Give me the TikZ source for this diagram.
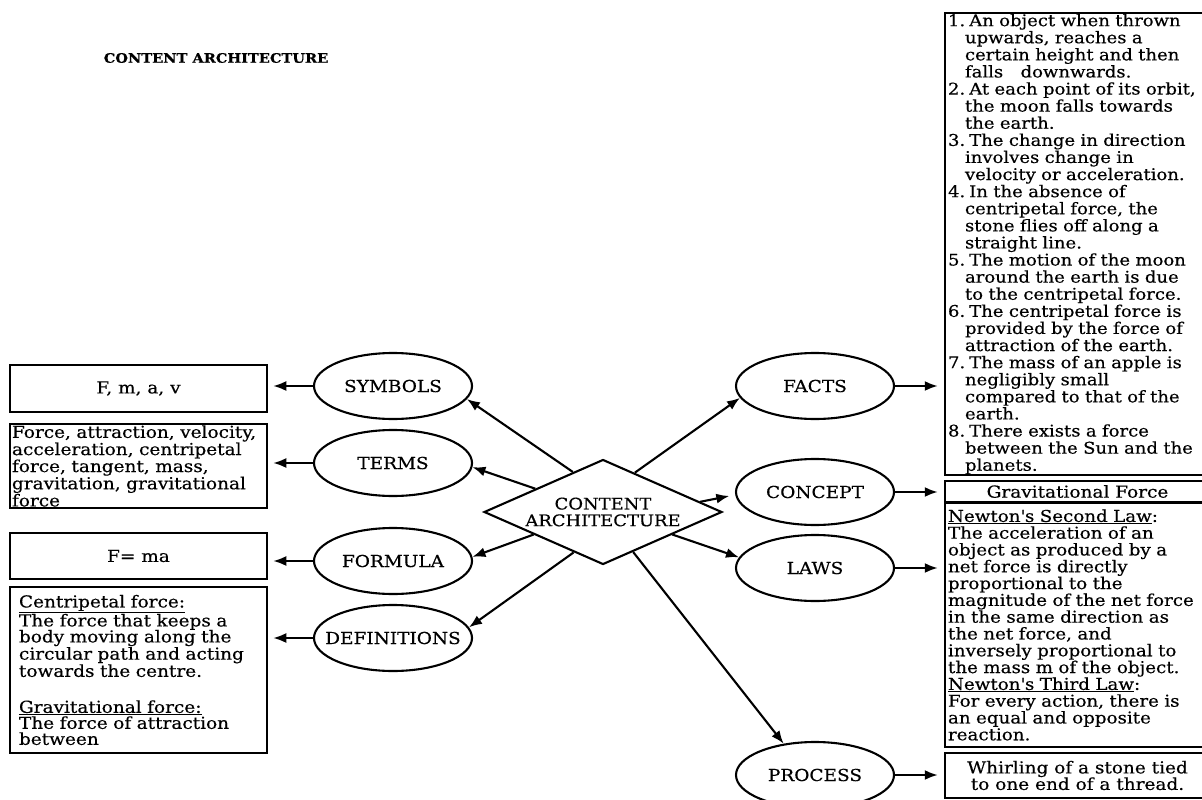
\documentclass[tikz,border=0pt]{standalone}
\usepackage{fontspec}
\setmainfont{DejaVu Serif}[FakeStretch=1.12,FakeBold=0.4]
\usetikzlibrary{shapes.geometric,arrows.meta}
\newcommand\hind{\hspace*{17pt}}
\newcommand\nmb[1]{#1.\hspace{4pt}}
\begin{document}
\begin{tikzpicture}[x=1pt,y=-1pt,
  box/.style={draw, line width=2.5pt, rectangle, inner sep=0pt, font=\fontsize{16.5}{16.5}\selectfont},
  oval/.style={draw, ellipse, line width=2.1pt, minimum width=158pt, minimum height=66pt, inner sep=0pt, font=\fontsize{16.5}{16}\selectfont},
  arr/.style={line width=2.1pt, -{Latex[length=13pt,width=10pt]}},
  gap/.style={shorten >=5pt}]
\clip (0,0) rectangle (1202,800);
\fill[white] (0,0) rectangle (1202,800);

% title
\node[font=\fontsize{13}{13}\selectfont\bfseries] (title) at (216,58) {CONTENT ARCHITECTURE};

% centre diamond
\node[draw, diamond, line width=2.1pt, aspect=2.27, minimum width=238pt, minimum height=105pt, inner sep=0pt, align=center, font=\fontsize{16}{16.7}\selectfont] (dia) at (603,512) {CONTENT\\ARCHITECTURE};

% ellipses
\node[oval] (sym) at (393,386) {\makebox[0pt]{SYMBOLS}};
\node[oval] (terms) at (393,463) {\makebox[0pt]{TERMS}};
\node[oval] (form) at (393,561) {\makebox[0pt]{FORMULA}};
\node[oval] (defs) at (393,638) {\makebox[0pt]{DEFINITIONS}};
\node[oval] (facts) at (815,386) {\makebox[0pt]{FACTS}};
\node[oval] (concept) at (815,492) {\makebox[0pt]{CONCEPT}};
\node[oval] (laws) at (815,568) {\makebox[0pt]{LAWS}};
\node[oval] (process) at (815,775) {\makebox[0pt]{PROCESS}};

% left boxes
\node[box, minimum width=257pt, minimum height=47pt] (b1) at (138.5,388.5) {F, m, a, v};
\node[box, minimum width=257pt, minimum height=84pt, text width=253pt, inner xsep=2pt, align=left, font=\fontsize{16.5}{15.8}\selectfont] (b2) at (138.5,466)
 {Force, attraction, velocity,\\acceleration, centripetal\\force, tangent, mass,\\gravitation, gravitational\\force};
\node[box, minimum width=257pt, minimum height=46pt] (b3) at (138.5,556) {F= ma};
\node[box, minimum width=257pt, minimum height=166pt, text width=239pt, inner xsep=9pt, align=left, font=\fontsize{16.5}{16}\selectfont] (b4) at (138.5,670)
 {\underline{Centripetal force:}\\The force that keeps a\\body moving along the\\circular path and acting\\towards the centre.\\[20pt]\underline{Gravitational force:}\\The force of attraction\\between};

% right boxes
\node[box, minimum width=300pt, minimum height=462pt, text width=294pt, inner xsep=3pt, align=left, font=\fontsize{16.1}{17.1}\selectfont] (fbox) at (1095,244)
 {\nmb{1}An object when thrown\\\hind upwards, reaches a\\\hind certain height and then\\\hind falls\hspace{12pt} downwards.\\
  \nmb{2}At each point of its orbit,\\\hind the moon falls towards\\\hind the earth.\\
  \nmb{3}The change in direction\\\hind involves change in\\\hind velocity or acceleration.\\
  \nmb{4}In the absence of\\\hind centripetal force, the\\\hind stone flies off along a\\\hind straight line.\\
  \nmb{5}The motion of the moon\\\hind around the earth is due\\\hind to the centripetal force.\\
  \nmb{6}The centripetal force is\\\hind provided by the force of\\\hind attraction of the earth.\\
  \nmb{7}The mass of an apple is\\\hind negligibly small\\\hind compared to that of the\\\hind earth.\\
  \nmb{8}There exists a force\\\hind between the Sun and the\\\hind planets.};
\node[box, minimum width=265pt, minimum height=21pt] (gbox) at (1077.5,491.5) {Gravitational Force};
\node[box, minimum width=300pt, minimum height=244pt, text width=294pt, inner xsep=3pt, align=left, font=\fontsize{16.3}{16.8}\selectfont] (lbox) at (1095,625)
 {\underline{Newton\textquotesingle s Second Law}:\\The acceleration of an\\object as produced by a\\net force is directly\\proportional to the\\magnitude of the net force\\in the same direction as\\the net force, and\\inversely proportional to\\the mass m of the object.\\\underline{Newton\textquotesingle s Third Law}:\\For every action, there is\\an equal and opposite\\reaction.};
\node[box, minimum width=265pt, minimum height=45pt, align=center, font=\fontsize{16.5}{16.5}\selectfont] (pbox) at (1077.5,775.5) {Whirling of a stone tied\\to one end of a thread.};

% ellipse -> box arrows
\draw[arr, gap] (sym.west) -- (sym.west -| b1.east);
\draw[arr, gap] (terms.west) -- (terms.west -| b2.east);
\draw[arr, gap] (form.west) -- (form.west -| b3.east);
\draw[arr, gap] (defs.west) -- (defs.west -| b4.east);
\draw[arr, shorten >=6pt] (facts.east) -- (facts.east -| fbox.west);
\draw[arr, shorten >=6pt] (concept.east) -- (concept.east -| gbox.west);
\draw[arr, shorten >=6pt] (laws.east) -- (laws.east -| lbox.west);
\draw[arr, shorten >=6pt] (process.east) -- (process.east -| pbox.west);

% diamond -> ellipse arrows
\draw[arr] (dia.127) -- (sym.-10);
\draw[arr] (dia.161) -- (terms.-3.5);
\draw[arr] (dia.198) -- (form.3);
\draw[arr] (dia.234) -- (defs.8);
\draw[arr] (dia.51) -- (facts.189);
\draw[arr, shorten >=6pt] (dia.6) -- (concept.182);
\draw[arr] (dia.-18) -- (laws.172);
\draw[arr] (dia.-53) -- (process.135);
\end{tikzpicture}
\end{document}
